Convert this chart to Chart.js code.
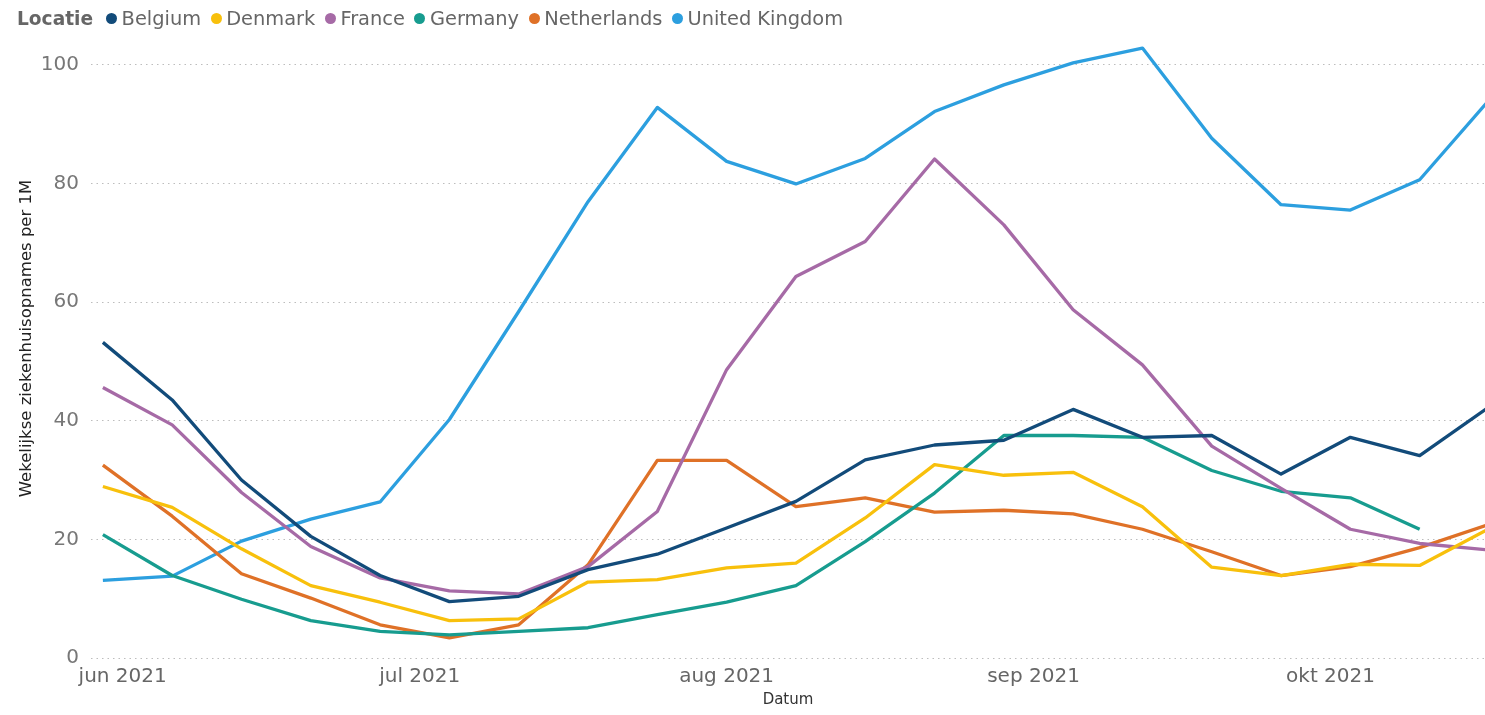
<!DOCTYPE html>
<html>
<head>
<meta charset="utf-8">
<title>Wekelijkse ziekenhuisopnames per 1M</title>
<script src="https://cdn.jsdelivr.net/npm/chart.js@4/dist/chart.umd.min.js"></script>
<style>
  html, body { margin: 0; padding: 0; background: #fff; }
  #wrap { position: relative; width: 1485px; height: 715px; overflow: hidden; }
  #legend {
    position: absolute; left: 17px; top: 7px; line-height: 23px;
    font: 19.4px "DejaVu Sans", sans-serif; color: #666;
    display: flex; align-items: center; white-space: nowrap;
  }
  #legend b { font-size: 18.6px; margin-right: 13px; }
  #legend .item { display: flex; align-items: center; margin-right: 9.6px; }
  #legend .dot { width: 11px; height: 11px; border-radius: 50%; margin-right: 4.5px; }
</style>
</head>
<body>
<div id="wrap">
  <canvas id="chart" width="1485" height="715"></canvas>
  <div id="legend"><b>Locatie</b></div>
</div>
<script>
// weken (zondag), waarden per land
const weeks = ['2021-05-30', '2021-06-06', '2021-06-13', '2021-06-20', '2021-06-27',
  '2021-07-04', '2021-07-11', '2021-07-18', '2021-07-25', '2021-08-01', '2021-08-08',
  '2021-08-15', '2021-08-22', '2021-08-29', '2021-09-05', '2021-09-12', '2021-09-19',
  '2021-09-26', '2021-10-03', '2021-10-10', '2021-10-17'];

const belgium = [53.2, 43.5, 30.0, 20.5, 13.9, 9.5, 10.4, 14.9, 17.5, 21.9, 26.4,
  33.4, 35.9, 36.7, 41.9, 37.2, 37.5, 31.0, 37.2, 34.1, 42.3];
const denmark = [28.9, 25.4, 18.4, 12.2, 9.4, 6.3, 6.6, 12.8, 13.2, 15.2, 16.0,
  23.6, 32.6, 30.8, 31.3, 25.5, 15.3, 13.9, 15.8, 15.6, 21.8];
const france = [45.6, 39.3, 27.9, 18.8, 13.5, 11.3, 10.8, 15.4, 24.7, 48.6, 64.3,
  70.2, 84.1, 73.0, 58.7, 49.4, 35.7, 28.6, 21.7, 19.3, 18.2];
const germany = [20.8, 13.9, 9.9, 6.3, 4.5, 3.9, 4.5, 5.1, 7.3, 9.4, 12.2,
  19.6, 27.8, 37.5, 37.5, 37.2, 31.6, 28.1, 27.0, 21.7, null];
const netherlands = [32.5, 23.9, 14.2, 10.1, 5.6, 3.4, 5.6, 15.7, 33.3, 33.3, 25.5,
  27.0, 24.6, 24.9, 24.3, 21.7, 17.9, 13.9, 15.4, 18.6, 22.5];
const unitedKingdom = [13.1, 13.8, 19.7, 23.4, 26.3, 40.2, 58.4, 76.9, 92.8, 83.7, 79.9,
  84.2, 92.1, 96.6, 100.3, 102.8, 87.6, 76.4, 75.5, 80.6, 94.0];

const monthStarts = ['2021-06-01', '2021-07-01', '2021-08-01', '2021-09-01', '2021-10-01'];
const monthLabels = ['jun 2021', 'jul 2021', 'aug 2021', 'sep 2021', 'okt 2021'];
const yTicks = [0, 20, 40, 60, 80, 100];

const series = [
  { name: 'Belgium', data: belgium, color: '#124B7A' },
  { name: 'Denmark', data: denmark, color: '#F8C00C' },
  { name: 'France', data: france, color: '#A66AA6' },
  { name: 'Germany', data: germany, color: '#179C8F' },
  { name: 'Netherlands', data: netherlands, color: '#DF7127' },
  { name: 'United Kingdom', data: unitedKingdom, color: '#2C9FDF' }
];

// dagen t.o.v. 1 juni 2021
const base = Date.UTC(2021, 5, 1);
function dayNum(s) {
  const p = s.split('-');
  return (Date.UTC(+p[0], +p[1] - 1, +p[2]) - base) / 86400000;
}
const weekDays = weeks.map(dayNum);
const monthDays = monthStarts.map(dayNum);

// legenda in html
const legend = document.getElementById('legend');
series.forEach(s => {
  const item = document.createElement('span');
  item.className = 'item';
  item.innerHTML = '<span class="dot" style="background:' + s.color + '"></span>' + s.name;
  legend.appendChild(item);
});

Chart.defaults.font.family = '"DejaVu Sans", sans-serif';

new Chart(document.getElementById('chart'), {
  type: 'line',
  data: {
    datasets: series.map(s => ({
      label: s.name,
      data: s.data.map((v, i) => ({ x: weekDays[i], y: v })),
      borderColor: s.color,
      backgroundColor: s.color,
      borderWidth: 3.3,
      borderJoinStyle: 'round',
      pointRadius: 0,
      tension: 0,
      spanGaps: false
    }))
  },
  options: {
    responsive: false,
    animation: false,
    devicePixelRatio: 1,
    layout: { padding: { top: 19, right: 0, bottom: 0, left: 0 } },
    plugins: { legend: { display: false }, tooltip: { enabled: false } },
    scales: {
      x: {
        type: 'linear',
        min: -3.2,
        max: 137.6,
        grid: { display: false, drawTicks: false },
        border: { display: false },
        afterBuildTicks: scale => { scale.ticks = monthDays.map(v => ({ value: v })); },
        afterFit: scale => {
          scale.height = 57;
          scale.paddingLeft = 0;
          scale.paddingRight = 0;
        },
        ticks: {
          autoSkip: false,
          maxRotation: 0,
          padding: 7,
          color: '#666',
          font: { size: 20 },
          callback: (v, i) => monthLabels[i]
        },
        title: {
          display: true,
          text: 'Datum',
          color: '#333',
          font: { size: 15 },
          padding: { top: 0, bottom: 6 }
        }
      },
      y: {
        min: 0,
        max: 107.7,
        grid: { color: '#bdbdbd', lineWidth: 1, drawTicks: false },
        border: { display: false, dash: [1.5, 4] },
        afterBuildTicks: scale => { scale.ticks = yTicks.map(v => ({ value: v })); },
        afterFit: scale => {
          scale.width = 91;
          scale.paddingTop = 0;
          scale.paddingBottom = 0;
        },
        ticks: {
          padding: 12,
          color: '#777',
          font: { size: 20 },
          callback: v => String(v)
        },
        title: {
          display: true,
          text: 'Wekelijkse ziekenhuisopnames per 1M',
          color: '#222',
          font: { size: 16.5 },
          padding: { top: 17, bottom: 0 }
        }
      }
    }
  }
});
</script>
</body>
</html>
